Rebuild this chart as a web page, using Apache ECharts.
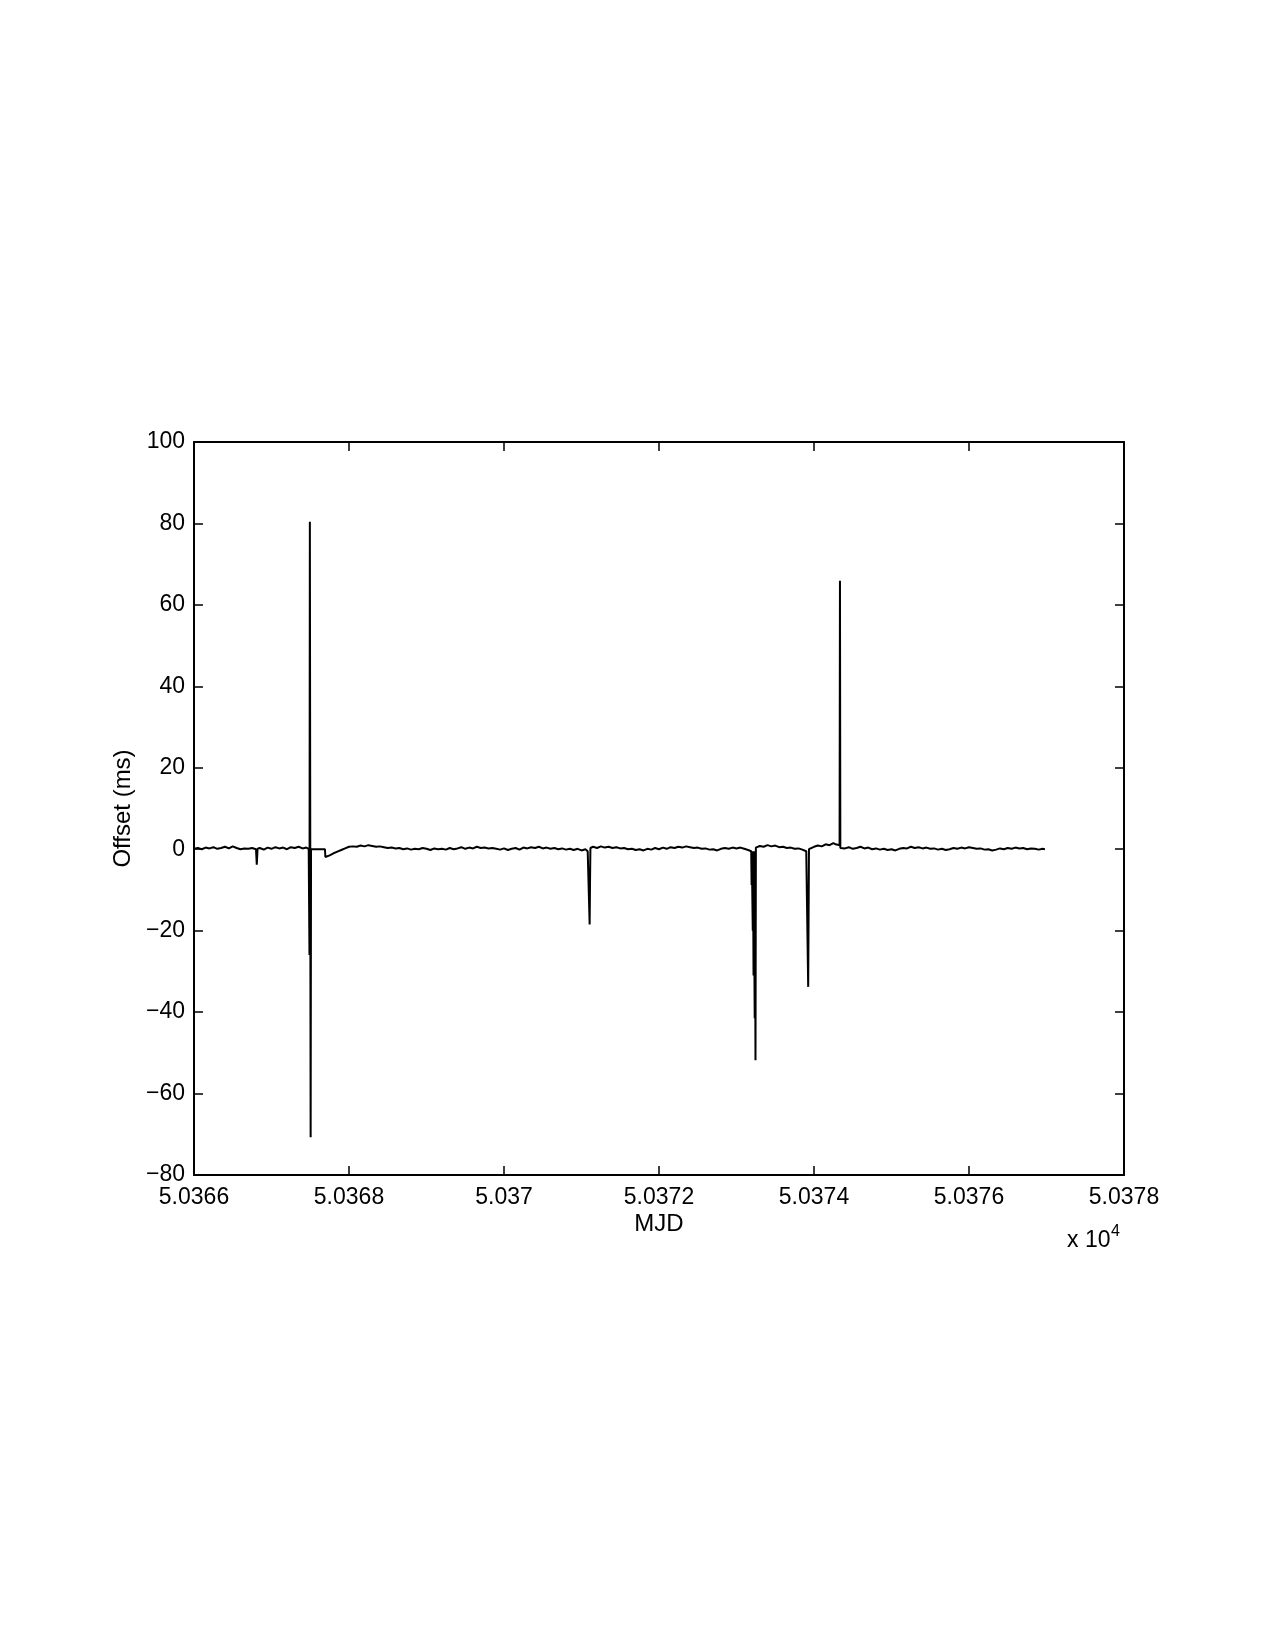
<!DOCTYPE html>
<html>
<head>
<meta charset="utf-8">
<script src="https://cdn.jsdelivr.net/npm/echarts@6/dist/echarts.min.js"></script>
<style>
html,body{margin:0;padding:0;background:#fff;}
#chart{width:1275px;height:1650px;}
</style>
</head>
<body>
<div id="chart"></div>
<script>
// ---- Data (MJD, offset in ms) ----
const mjd = [
50366.00,50366.05,50366.10,50366.15,50366.20,50366.25,50366.30,50366.35,50366.40,50366.45,
50366.50,50366.55,50366.60,50366.65,50366.70,50366.75,50366.80,50366.81,50366.82,50366.85,
50366.90,50366.95,50367.00,50367.05,50367.10,50367.15,50367.20,50367.25,50367.30,50367.35,
50367.40,50367.45,50367.48,50367.49,50367.495,50367.505,50367.51,50367.69,50367.695,50367.70,
50367.75,50367.80,50367.85,50367.90,50367.95,50368.00,50368.05,50368.10,50368.15,50368.20,
50368.25,50368.30,50368.35,50368.40,50368.45,50368.50,50368.55,50368.60,50368.65,50368.70,
50368.75,50368.80,50368.85,50368.90,50368.95,50369.00,50369.05,50369.10,50369.15,50369.20,
50369.25,50369.30,50369.35,50369.40,50369.45,50369.50,50369.55,50369.60,50369.65,50369.70,
50369.75,50369.80,50369.85,50369.90,50369.95,50370.00,50370.05,50370.10,50370.15,50370.20,
50370.25,50370.30,50370.35,50370.40,50370.45,50370.50,50370.55,50370.60,50370.65,50370.70,
50370.75,50370.80,50370.85,50370.90,50370.95,50371.00,50371.05,50371.08,50371.10,50371.105,
50371.11,50371.115,50371.15,50371.20,50371.25,50371.30,50371.35,50371.40,50371.45,50371.50,
50371.55,50371.60,50371.65,50371.70,50371.75,50371.80,50371.85,50371.90,50371.95,50372.00,
50372.05,50372.10,50372.15,50372.20,50372.25,50372.30,50372.35,50372.40,50372.45,50372.50,
50372.55,50372.60,50372.65,50372.70,50372.75,50372.80,50372.85,50372.90,50372.95,50373.00,
50373.05,50373.10,50373.15,50373.19,
50373.195,50373.197,50373.21,50373.212,50373.22,50373.222,50373.235,50373.237,50373.245,50373.25,
50373.30,50373.35,50373.40,50373.45,50373.50,50373.55,50373.60,50373.65,50373.70,50373.75,
50373.80,50373.85,50373.90,50373.925,50373.935,50374.00,50374.05,50374.10,50374.15,50374.20,
50374.25,50374.28,50374.30,50374.33,50374.335,50374.34,50374.40,50374.45,50374.50,50374.55,
50374.60,50374.65,50374.70,50374.75,50374.80,50374.85,50374.90,50374.95,50375.00,50375.05,
50375.10,50375.15,50375.20,50375.25,50375.30,50375.35,50375.40,50375.45,50375.50,50375.55,
50375.60,50375.65,50375.70,50375.75,50375.80,50375.85,50375.90,50375.95,50376.00,50376.05,
50376.10,50376.15,50376.20,50376.25,50376.30,50376.35,50376.40,50376.45,50376.50,50376.55,
50376.60,50376.65,50376.70,50376.75,50376.80,50376.85,50376.90,50376.95,50376.98
];
const offsetMs = [
0.1,0.3,0.0,0.4,0.2,0.5,0.1,0.3,0.6,0.2,
0.7,0.3,0.0,0.2,0.1,0.3,0.0,-3.8,0.1,0.3,
-0.1,0.4,0.1,0.5,0.2,0.4,0.0,0.5,0.3,0.6,
0.2,0.4,0.1,-26.0,80.4,-70.7,0.0,0.0,-1.9,-1.8,
-1.5,-1.0,-0.6,-0.2,0.2,0.6,0.7,0.6,0.9,0.7,
1.0,0.8,0.6,0.7,0.5,0.3,0.4,0.2,0.3,0.0,
0.2,-0.1,0.1,0.0,0.3,0.1,-0.2,0.2,0.0,0.1,
-0.1,0.3,0.0,0.2,0.5,0.1,0.4,0.2,0.6,0.3,
0.4,0.2,0.3,0.1,-0.1,0.2,-0.2,0.1,0.3,-0.1,
0.4,0.2,0.5,0.3,0.6,0.2,0.4,0.1,0.3,0.0,
0.2,-0.1,0.1,-0.2,0.1,-0.3,0.0,-0.5,-0.8,-18.5,
-8.0,0.3,0.6,0.3,0.7,0.4,0.6,0.3,0.5,0.2,
0.3,0.0,0.1,-0.2,0.0,-0.3,0.1,-0.1,0.3,0.0,
0.4,0.1,0.5,0.3,0.6,0.4,0.7,0.5,0.3,0.4,
0.1,0.2,-0.1,0.0,-0.3,0.1,0.3,0.1,0.4,0.2,
0.4,0.1,-0.2,-0.5,
-8.8,-0.5,-20.0,-0.5,-31.0,-0.5,-41.5,-0.5,-51.8,0.4,
0.8,0.6,1.0,0.7,0.9,0.5,0.6,0.3,0.4,0.1,
0.2,-0.1,-0.5,-33.8,0.0,0.6,0.9,0.7,1.2,1.0,
1.5,1.2,1.6,1.0,65.9,0.3,0.2,0.5,0.1,0.3,
0.6,0.2,0.4,0.0,0.2,-0.1,0.1,-0.2,0.0,-0.3,
0.1,0.3,0.2,0.6,0.3,0.5,0.2,0.4,0.1,0.2,
-0.1,0.1,-0.2,0.0,0.3,0.1,0.4,0.2,0.5,0.3,
0.1,0.2,-0.1,0.0,-0.3,-0.1,0.2,0.0,0.3,0.1,
0.4,0.2,0.3,0.0,0.2,0.1,-0.1,0.1,0.0
];
const xTickMin = 50366, xTickMax = 50378, xTickStep = 2;
const yTickMin = -80, yTickMax = 100, yTickStep = 20;
const xAxisName = 'MJD';
const yAxisName = 'Offset (ms)';
const xScaleNote = 'x 10';
const xScaleExp = '4';

const seriesData = mjd.map((x, i) => [x, offsetMs[i]]);
const FONT = '"Liberation Sans", Arial, Helvetica, sans-serif';
const FS = 23;
const fmtX = v => String(parseFloat((v / 1e4).toFixed(4)));
const fmtY = v => String(v).replace('-', '\u2212');

const axisLine = { show: true, onZero: false, lineStyle: { color: '#000', width: 2 } };
const axisTick = { show: true, inside: true, length: 9, lineStyle: { color: '#000', width: 1.5 } };
const lbl = { color: '#000', fontSize: FS, fontFamily: FONT };

const chart = echarts.init(document.getElementById('chart'), null, { renderer: 'canvas' });
chart.setOption({
  animation: false,
  backgroundColor: '#fff',
  grid: { left: 194, right: 151, top: 442, bottom: 475, containLabel: false },
  xAxis: [
    { type: 'value', min: xTickMin, max: xTickMax, interval: xTickStep, position: 'bottom',
      axisLine, axisTick, splitLine: { show: false },
      axisLabel: Object.assign({ margin: 11, formatter: fmtX }, lbl),
      name: xAxisName, nameLocation: 'middle', nameGap: 37,
      nameTextStyle: { color: '#000', fontSize: 24, fontFamily: FONT } },
    { type: 'value', min: xTickMin, max: xTickMax, interval: xTickStep, position: 'top',
      axisLine, axisTick, splitLine: { show: false }, axisLabel: { show: false } }
  ],
  yAxis: [
    { type: 'value', min: yTickMin, max: yTickMax, interval: yTickStep, position: 'left',
      axisLine, axisTick, splitLine: { show: false },
      axisLabel: Object.assign({ margin: 9, formatter: fmtY }, lbl),
      name: yAxisName, nameLocation: 'middle', nameGap: 48, nameRotate: 90,
      nameTextStyle: { color: '#000', fontSize: 24, fontFamily: FONT } },
    { type: 'value', min: yTickMin, max: yTickMax, interval: yTickStep, position: 'right',
      axisLine, axisTick, splitLine: { show: false }, axisLabel: { show: false } }
  ],
  graphic: [
    { type: 'text', left: 1067, top: 1229,
      style: { text: xScaleNote, fontSize: FS, fontFamily: FONT, fill: '#000' } },
    { type: 'text', left: 1111, top: 1224,
      style: { text: xScaleExp, fontSize: 16, fontFamily: FONT, fill: '#000' } }
  ],
  series: [{
    type: 'line', xAxisIndex: 0, yAxisIndex: 0, data: seriesData,
    showSymbol: false, symbol: 'none',
    lineStyle: { color: '#000', width: 2 },
    emphasis: { disabled: true }
  }]
});
</script>
</body>
</html>
